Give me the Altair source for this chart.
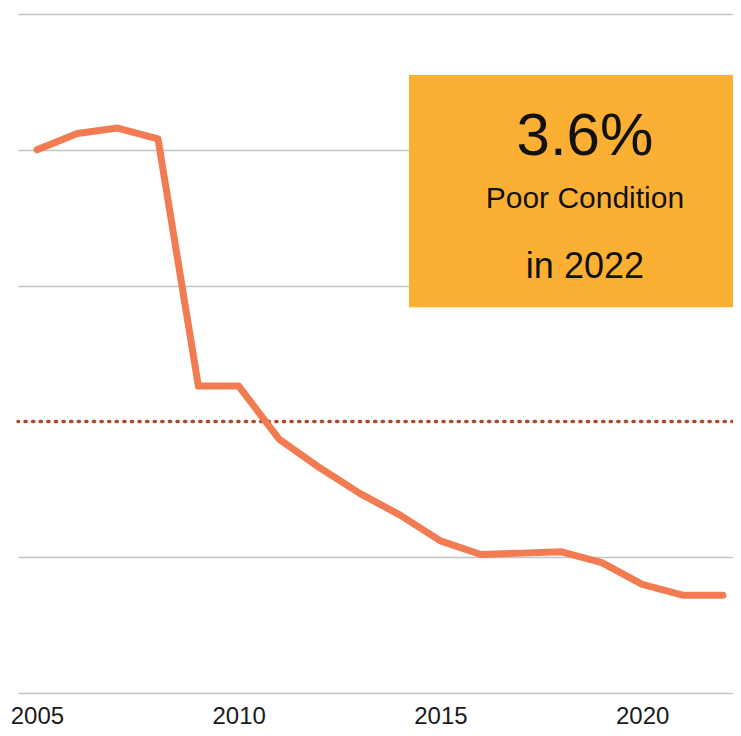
import altair as alt
import pandas as pd

years = list(range(2005, 2023))
poor_pct = [20.0, 20.6, 20.8, 20.4, 11.3, 11.3, 9.35, 8.3, 7.35, 6.55, 5.6, 5.1, 5.15, 5.2, 4.8, 4.0, 3.6, 3.6]
grid_values = [0, 5, 15, 20, 25]
threshold = [10]
x_ticks = [2005, 2010, 2015, 2020]

# annotation box (data units)
x_min, x_max = 2004.53, 2022.25
box_x = [2014.22]
box_x2 = [x_max]
box_y = [14.2]
box_y2 = [22.75]
ann_text = ["3.6%", "Poor Condition", "in 2022"]
ann_y = [19.81, 17.86, 15.28]
ann_size = [60, 30, 36]
ann_x = [2018.58, 2018.58, 2018.58]

df = pd.DataFrame({"year": years, "pct": poor_pct})
xs = alt.Scale(domain=[x_min, x_max], nice=False, zero=False)
ys = alt.Scale(domain=[0, 25], nice=False)

base_axis_x = alt.Axis(values=x_ticks, format="d", ticks=False, domain=False, grid=False,
                       labelFontSize=24, labelFont="Liberation Sans", labelColor="#1a1a1a",
                       labelPadding=11, title=None, labelFlush=False)
base_axis_y = alt.Axis(values=grid_values, labels=False, ticks=False, domain=False, grid=True,
                       gridColor="#c4c4c4", gridWidth=1.5, title=None)

line = alt.Chart(df).mark_line(color="#f27b52", strokeWidth=7, strokeCap="round", strokeJoin="round").encode(
    x=alt.X("year:Q", scale=xs, axis=base_axis_x),
    y=alt.Y("pct:Q", scale=ys, axis=base_axis_y),
)

rule = alt.Chart(pd.DataFrame({"t": threshold})).mark_rule(
    color="#ab4a2a", strokeWidth=3.5, strokeDash=[1.2, 6.4], strokeCap="round"
).encode(y=alt.Y("t:Q", scale=ys))

box = alt.Chart(pd.DataFrame({"x": box_x, "x2": box_x2, "y": box_y, "y2": box_y2})).mark_rect(
    color="#fcb033"
).encode(
    x=alt.X("x:Q", scale=xs), x2="x2:Q",
    y=alt.Y("y:Q", scale=ys), y2="y2:Q",
)

ann = alt.Chart(pd.DataFrame({"x": ann_x, "y": ann_y, "t": ann_text, "s": ann_size})).mark_text(
    align="center", baseline="alphabetic", font="Liberation Sans", color="#111111"
).encode(
    x=alt.X("x:Q", scale=xs),
    y=alt.Y("y:Q", scale=ys),
    text="t:N",
    size=alt.Size("s:Q", scale=None, legend=None),
)

chart = alt.layer(rule, line, box, ann).properties(
    width=715, height=679,
    autosize=alt.AutoSizeParams(type="none"),
    padding={"left": 10, "top": 6, "right": 0, "bottom": 35},
).configure_view(stroke=None)

chart.save("out.html", embed_options={"renderer": "svg", "actions": False})
